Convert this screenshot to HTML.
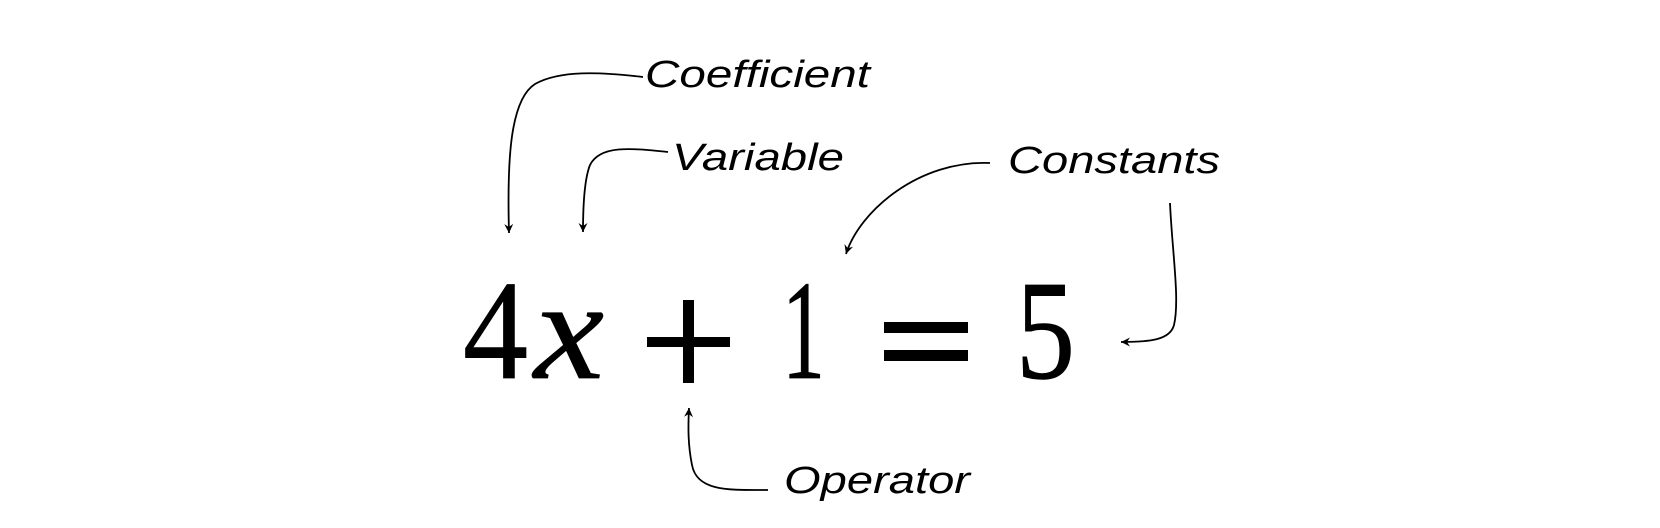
<!DOCTYPE html>
<html><head><meta charset="utf-8"><style>
html,body{margin:0;padding:0;background:#fff;}
svg{display:block;}
</style></head><body>
<svg width="1660" height="528" viewBox="0 0 1660 528" xmlns="http://www.w3.org/2000/svg">
<defs>
<marker id="a" markerWidth="12" markerHeight="12" refX="10" refY="6" orient="auto" markerUnits="userSpaceOnUse">
<path d="M1,1.5 L10,6 L1,10.5 L4,6 Z" fill="#000"/>
</marker>
</defs>
<g fill="none" stroke="#000" stroke-width="1.8" marker-end="url(#a)">
<path d="M643,77 C600,72 560,70 535,84 C510,100 507,160 509,233"/>
<path d="M668,152 C630,148 600,145 590,165 C584,180 583,210 583,232"/>
<path d="M990,163 C920,160 860,210 846,254"/>
<path d="M1170,203 C1172,250 1180,300 1174,325 C1170,340 1150,342 1121,342"/>
<path d="M768,490 C730,490 697,492 692,465 C688,445 688,428 689,408"/>
</g>
<g font-family="'Liberation Sans', sans-serif" font-style="italic" font-size="38" fill="#000">
<text x="645" y="87" textLength="225" lengthAdjust="spacingAndGlyphs">Coefficient</text>
<text x="672" y="170" textLength="172" lengthAdjust="spacingAndGlyphs">Variable</text>
<text x="1008" y="173" textLength="212" lengthAdjust="spacingAndGlyphs">Constants</text>
<text x="784" y="493" textLength="186" lengthAdjust="spacingAndGlyphs">Operator</text>
</g>
<g font-family="'Liberation Serif', serif" font-size="142" fill="#000" stroke="#000" stroke-width="0.8">
<text x="463" y="378" textLength="65" lengthAdjust="spacingAndGlyphs">4</text>
<text x="534" y="378" font-style="italic" textLength="70" lengthAdjust="spacingAndGlyphs">x</text>
<text x="782" y="378" textLength="43" lengthAdjust="spacingAndGlyphs">1</text>
<text x="1016" y="378" textLength="59" lengthAdjust="spacingAndGlyphs">5</text>
</g>
<g fill="#000">
<rect x="647" y="337" width="83" height="10"/>
<rect x="683" y="300" width="11" height="83"/>
<rect x="884" y="322" width="84" height="11"/>
<rect x="884" y="350" width="84" height="11"/>
</g>
</svg>
</body></html>
